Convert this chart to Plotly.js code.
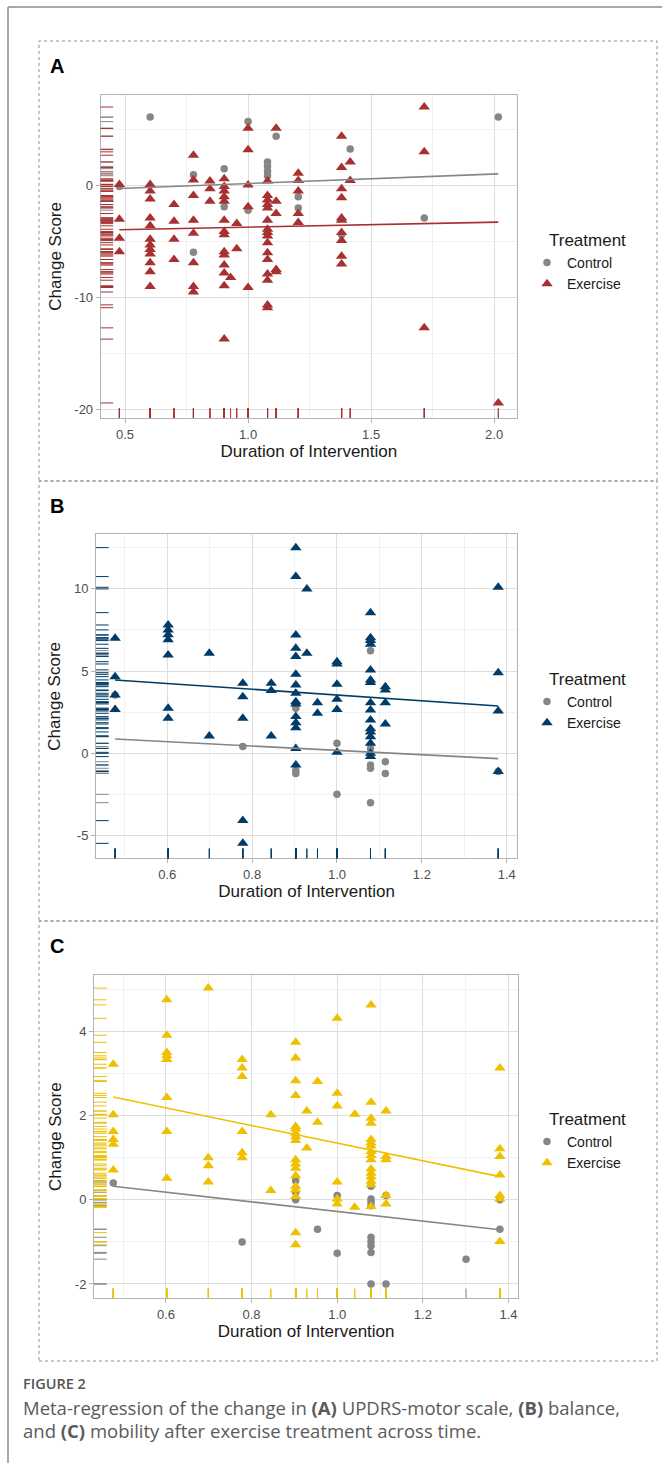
<!DOCTYPE html>
<html>
<head>
<meta charset="utf-8">
<script src="https://cdn.plot.ly/plotly-3.0.1.min.js"></script>
<style>
html,body{margin:0;padding:0;background:#fff;}
#chart{width:662px;height:1472px;}
</style>
</head>
<body>
<div id="chart"></div>
<script>
// ---------------- DATA (x = Duration of Intervention, y = Change Score) ----------------
const groupNames = ["Control", "Exercise"];
const panelLetters = ["A", "B", "C"];
const legendTitle = "Treatment";
const xTitle = "Duration of Intervention";
const yTitle = "Change Score";

// Panel A: UPDRS-motor
const aControlX = [0.477,0.602,0.778,0.778,0.903,0.903,1.0,1.0,1.079,1.079,1.079,1.079,1.114,1.204,1.204,1.380,1.415,1.716,2.017];
const aControlY = [-0.1,6.1,0.95,-5.95,1.5,-1.9,5.7,-2.2,2.1,1.7,1.25,0.87,4.4,-1.0,-2.0,-4.4,3.25,-2.9,6.1];
const aExerciseX = [
  0.477,0.477,0.477,0.477,
  0.602,0.602,0.602,0.602,0.602,0.602,0.602,0.602,0.602,0.602,0.602,0.602,
  0.699,0.699,0.699,0.699,
  0.778,0.778,0.778,0.778,0.778,0.778,0.778,0.778,
  0.845,0.845,0.845,
  0.903,0.903,0.903,0.903,0.903,0.903,0.903,0.903,0.903,0.903,0.903,0.903,0.903,0.903,
  0.929,
  0.954,0.954,
  1.0,1.0,1.0,1.0,1.0,
  1.079,1.079,1.079,1.079,1.079,1.079,1.079,1.079,1.079,1.079,1.079,1.079,1.079,1.079,1.079,1.079,
  1.114,1.114,1.114,1.114,1.114,
  1.204,1.204,1.204,1.204,1.204,
  1.380,1.380,1.380,1.380,1.380,1.380,1.380,1.380,1.380,1.380,
  1.415,1.415,
  1.716,1.716,1.716,
  2.017];
const aExerciseY = [
  0.1,-3.0,-4.7,-5.9,
  0.1,-0.5,-1.2,-2.9,-3.6,-4.8,-5.3,-5.7,-6.1,-6.9,-7.7,-9.0,
  -1.7,-3.2,-4.8,-6.6,
  2.7,0.5,-0.9,-3.1,-4.25,-6.9,-9.0,-9.5,
  0.4,-0.3,-1.4,
  0.6,-0.1,-0.5,-1.0,-1.4,-3.1,-4.1,-4.4,-5.9,-6.2,-7.1,-7.8,-8.95,-13.7,
  -8.2,
  -3.4,-5.65,
  5.1,3.2,0.05,-1.9,-9.1,
  0.4,-0.9,-1.3,-1.7,-2.0,-3.1,-3.9,-4.2,-4.5,-5.1,-6.0,-6.6,-7.9,-8.45,-10.65,-10.9,
  5.1,-1.4,-2.5,-7.5,-7.7,
  1.1,0.45,-0.5,-2.5,-3.3,
  4.4,1.6,-0.3,-1.1,-2.9,-3.1,-4.2,-4.9,-6.3,-7.0,
  2.1,0.45,
  7.0,3.0,-12.7,
  -19.4];
const aFitX = [0.477, 2.017];
const aControlFitY = [-0.27, 1.04];
const aExerciseFitY = [-3.95, -3.27];
const aYTickVals = [-20, -10, 0];
const aYTickText = ["-20", "-10", "0"];

// Panel B: balance
const bControlX = [0.477,0.778,0.903,0.903,0.903,1.0,1.0,1.079,1.079,1.079,1.079,1.079,1.114,1.114,1.380];
const bControlY = [3.55,0.41,2.74,-1.05,-1.22,0.61,-2.49,6.24,0.3,-0.71,-0.91,-3.0,-0.51,-1.22,-1.11];
const bExerciseX = [
  0.477,0.477,0.477,0.477,
  0.602,0.602,0.602,0.602,0.602,0.602,0.602,
  0.699,0.699,
  0.778,0.778,0.778,0.778,0.778,
  0.845,0.845,0.845,
  0.903,0.903,0.903,0.903,0.903,0.903,0.903,0.903,0.903,0.903,0.903,0.903,0.903,0.903,0.903,
  0.929,0.929,
  0.954,0.954,
  1.0,1.0,1.0,1.0,1.0,1.0,
  1.079,1.079,1.079,1.079,1.079,1.079,1.079,1.079,1.079,1.079,1.079,1.079,1.079,1.079,1.079,1.079,
  1.114,1.114,1.114,1.114,
  1.380,1.380,1.380,1.380];
const bExerciseY = [
  6.99,4.66,3.55,2.67,
  7.8,7.5,7.2,6.9,5.98,2.74,2.13,
  6.08,1.05,
  4.26,3.44,2.13,-4.09,-5.47,
  4.26,3.81,1.05,
  12.5,10.74,7.19,6.38,5.88,4.8,4.15,3.65,3.14,3.0,2.23,1.86,1.56,0.3,-0.71,
  9.99,6.08,
  3.08,2.43,
  5.57,5.43,4.19,3.28,2.67,0.06,
  8.55,7.03,6.85,6.63,5.07,4.46,4.3,3.08,2.63,2.03,1.5,1.3,1.01,0.61,0.0,-0.2,
  4.05,3.85,3.08,1.78,
  10.09,4.9,2.57,-1.11];
const bFitX = [0.477, 1.380];
const bControlFitY = [0.87, -0.32];
const bExerciseFitY = [4.46, 2.88];
const bYTickVals = [-5, 0, 5, 10];
const bYTickText = ["-5", "0", "5", "10"];

// Panel C: mobility
const cControlX = [0.477,0.778,0.903,0.903,0.903,0.954,1.0,1.0,1.079,1.079,1.079,1.079,1.079,1.079,1.079,1.079,1.079,1.114,1.114,1.301,1.380,1.380];
const cControlY = [0.40,-1.0,0.45,0.18,0.0,-0.70,0.1,-1.27,0.32,0.02,-0.06,-0.14,-0.89,-0.99,-1.09,-1.25,-2.0,0.1,-2.0,-1.41,0.0,-0.70];
const cExerciseX = [
  0.477,0.477,0.477,0.477,0.477,0.477,
  0.602,0.602,0.602,0.602,0.602,0.602,0.602,0.602,
  0.699,0.699,0.699,0.699,
  0.778,0.778,0.778,0.778,0.778,0.778,
  0.845,0.845,
  0.903,0.903,0.903,0.903,0.903,0.903,0.903,0.903,0.903,0.903,0.903,0.903,0.903,0.903,0.903,0.903,0.903,0.903,
  0.929,0.929,
  0.954,0.954,
  1.0,1.0,1.0,1.0,1.0,1.0,
  1.041,1.041,
  1.079,1.079,1.079,1.079,1.079,1.079,1.079,1.079,1.079,1.079,1.079,1.079,1.079,1.079,1.079,1.079,
  1.114,1.114,1.114,1.114,1.114,
  1.380,1.380,1.380,1.380,1.380,1.380,1.380];
const cExerciseY = [
  3.22,2.02,1.62,1.43,1.32,0.71,
  4.75,3.91,3.5,3.42,3.33,2.43,1.62,0.51,
  5.03,1.0,0.81,0.42,
  3.33,3.13,2.93,1.62,1.12,1.0,
  2.02,0.22,
  3.74,3.37,2.83,2.48,1.74,1.68,1.58,1.5,1.41,0.95,0.85,0.75,0.57,0.32,0.24,0.08,-0.78,-1.07,
  2.11,1.23,
  2.81,1.84,
  4.31,2.53,2.23,0.42,0.02,-0.1,
  2.03,-0.18,
  4.63,2.32,1.94,1.82,1.43,1.35,1.28,1.15,1.05,0.95,0.73,0.63,0.54,0.44,0.36,-0.16,
  2.11,1.03,0.95,0.1,-0.1,
  3.13,1.21,1.03,0.59,0.1,0.02,-0.99];
const cFitX = [0.477, 1.380];
const cControlFitY = [0.32, -0.71];
const cExerciseFitY = [2.44, 0.55];
const cYTickVals = [-2, 0, 2, 4];
const cYTickText = ["-2", "0", "2", "4"];

// Caption
const captionLabel = "FIGURE 2";
const captionLine1 = "Meta-regression of the change in <b>(A)</b> UPDRS-motor scale, <b>(B)</b> balance,";
const captionLine2 = "and <b>(C)</b> mobility after exercise treatment across time.";

// ---------------- STYLE ----------------
const W = 662, H = 1472;
const fx = p => p / W;
const fy = p => 1 - p / H;
const FONT = "Liberation Sans, Arial, Helvetica, sans-serif";
const controlColor = "#868686";
const exerciseColors = ["#A73030", "#003C67", "#EFC000"];

const panels = [
  { cx: aControlX, cy: aControlY, ex: aExerciseX, ey: aExerciseY, fitX: aFitX, cFit: aControlFitY, eFit: aExerciseFitY,
    yTv: aYTickVals, yTt: aYTickText,
    plot: [100.7, 517, 94.7, 418], xr: [0.401, 2.093], yr: [-20.74, 8.1], xd: 0.5, xm: 0.25, ym: 5, xfmt: ".1f",
    box: [39, 657, 41, 481], leg: [527, 247], legTitle: [547, 240] },
  { cx: bControlX, cy: bControlY, ex: bExerciseX, ey: bExerciseY, fitX: bFitX, cFit: bControlFitY, eFit: bExerciseFitY,
    yTv: bYTickVals, yTt: bYTickText,
    plot: [96, 517.3, 534.3, 858.3], xr: [0.432, 1.425], yr: [-6.38, 13.31], xd: 0.2, xm: 0.1, ym: 2.5, xfmt: ".1f",
    box: [39, 657, 481, 921], leg: [527, 686], legTitle: [547, 679] },
  { cx: cControlX, cy: cControlY, ex: cExerciseX, ey: cExerciseY, fitX: cFitX, cFit: cControlFitY, eFit: cExerciseFitY,
    yTv: cYTickVals, yTt: cYTickText,
    plot: [94, 518.3, 975, 1298.3], xr: [0.432, 1.423], yr: [-2.34, 5.34], xd: 0.2, xm: 0.1, ym: 1, xfmt: ".1f",
    box: [39, 657, 921, 1361], leg: [527, 1126], legTitle: [547, 1119] }
];

const traces = [];
const shapes = [];
const annotations = [];
const layout = {
  width: W, height: H,
  margin: { l: 0, r: 0, t: 0, b: 0 },
  paper_bgcolor: "#ffffff",
  plot_bgcolor: "#ffffff",
  font: { family: FONT, color: "#000" },
  showlegend: true
};

panels.forEach((p, i) => {
  const n = i === 0 ? "" : String(i + 1);
  const xa = "x" + n, ya = "y" + n;
  const legendId = "legend" + n;
  const col = exerciseColors[i];

  // points
  traces.push({ type: "scatter", mode: "markers", x: p.cx, y: p.cy, xaxis: xa, yaxis: ya,
    name: groupNames[0], legend: legendId, legendgroup: "c" + i,
    marker: { symbol: "circle", size: 7.5, color: controlColor } });
  traces.push({ type: "scatter", mode: "markers", x: p.ex, y: p.ey, xaxis: xa, yaxis: ya,
    name: groupNames[1], legend: legendId, legendgroup: "e" + i,
    marker: { symbol: "triangle-up", size: 10, color: col } });
  // regression lines
  traces.push({ type: "scatter", mode: "lines", x: p.fitX, y: p.cFit, xaxis: xa, yaxis: ya,
    showlegend: false, legend: legendId, line: { color: controlColor, width: 1.6 } });
  traces.push({ type: "scatter", mode: "lines", x: p.fitX, y: p.eFit, xaxis: xa, yaxis: ya,
    showlegend: false, legend: legendId, line: { color: col, width: 1.6 } });

  // rugs (control first, exercise on top)
  [[p.cx, p.cy, controlColor], [p.ex, p.ey, col]].forEach(([xs, ys, c]) => {
    ys.forEach(v => shapes.push({ type: "line", xref: xa + " domain", yref: ya, x0: 0, x1: 0.03, y0: v, y1: v,
      line: { color: c, width: 1 } }));
    xs.forEach(v => shapes.push({ type: "line", xref: xa, yref: ya + " domain", x0: v, x1: v, y0: 0, y1: 0.03,
      line: { color: c, width: 1 } }));
  });

  const [l, r, t, b] = p.plot;
  layout["xaxis" + n] = {
    domain: [fx(l), fx(r)], anchor: ya, range: p.xr, dtick: p.xd, tick0: 0, tickformat: p.xfmt,
    showgrid: true, gridcolor: "#DEDEDE", gridwidth: 1,
    minor: { dtick: p.xm, tick0: 0, showgrid: true, gridcolor: "#EBEBEB", gridwidth: 0.7 },
    showline: true, mirror: true, linecolor: "#B3B3B3", linewidth: 1,
    ticks: "outside", ticklen: 4, tickcolor: "#B3B3B3", tickwidth: 1,
    tickfont: { family: FONT, size: 13, color: "#4D4D4D" },
    zeroline: false, automargin: false, fixedrange: true,
    title: { text: xTitle, font: { family: FONT, size: 17, color: "#1a1a1a" }, standoff: 2 }
  };
  layout["yaxis" + n] = {
    domain: [fy(b), fy(t)], anchor: xa, range: p.yr, tickmode: "array", tickvals: p.yTv, ticktext: p.yTt,
    showgrid: true, gridcolor: "#DEDEDE", gridwidth: 1,
    minor: { tickmode: "linear", dtick: p.ym, tick0: 0, showgrid: true, gridcolor: "#EBEBEB", gridwidth: 0.7 },
    showline: true, mirror: true, linecolor: "#B3B3B3", linewidth: 1,
    ticks: "outside", ticklen: 4, tickcolor: "#B3B3B3", tickwidth: 1,
    tickfont: { family: FONT, size: 13, color: "#4D4D4D" },
    zeroline: false, automargin: false, fixedrange: true,
    title: { text: yTitle, font: { family: FONT, size: 17, color: "#1a1a1a" }, standoff: 8 }
  };
  layout[legendId] = {
    x: fx(p.leg[0]), y: fy(p.leg[1]), xanchor: "left", yanchor: "top",
    bgcolor: "rgba(0,0,0,0)", borderwidth: 0,
    font: { family: FONT, size: 14, color: "#1a1a1a" },
    tracegroupgap: 0, itemwidth: 30
  };
  annotations.push({ xref: "paper", yref: "paper", x: fx(p.legTitle[0]), y: fy(p.legTitle[1]), xanchor: "left", yanchor: "middle",
    text: legendTitle, showarrow: false, font: { family: FONT, size: 17, color: "#1a1a1a" } });

  // dotted panel box
  const [bl, br, bt, bb] = p.box;
  shapes.unshift({ type: "rect", xref: "paper", yref: "paper", x0: fx(bl), x1: fx(br), y0: fy(bb), y1: fy(bt),
    line: { color: "#8f8f8f", width: 1, dash: "dot" }, layer: "below" });

  annotations.push({ xref: "paper", yref: "paper", x: fx(bl + 9), y: fy(bt + 25), xanchor: "left", yanchor: "middle",
    text: "<b>" + panelLetters[i] + "</b>", showarrow: false, font: { family: FONT, size: 20, color: "#000" } });
});

// outer frame
shapes.unshift({ type: "line", xref: "paper", yref: "paper", x0: fx(8), x1: fx(8), y0: fy(1463), y1: fy(7),
  line: { color: "#8c8c8c", width: 1.5 } });
shapes.unshift({ type: "line", xref: "paper", yref: "paper", x0: fx(8), x1: fx(662), y0: fy(7), y1: fy(7),
  line: { color: "#8c8c8c", width: 1.5 } });

// caption
const CAP = "Open Sans, Noto Sans, sans-serif";
annotations.push({ xref: "paper", yref: "paper", x: fx(21), y: fy(1383), xanchor: "left", yanchor: "middle",
  text: captionLabel, showarrow: false, font: { family: CAP, size: 14.5, color: "#555555", weight: 600 } });
annotations.push({ xref: "paper", yref: "paper", x: fx(21), y: fy(1407), xanchor: "left", yanchor: "middle",
  text: captionLine1, showarrow: false, font: { family: CAP, size: 18.5, color: "#5a5a5a" } });
annotations.push({ xref: "paper", yref: "paper", x: fx(21), y: fy(1430), xanchor: "left", yanchor: "middle",
  text: captionLine2, showarrow: false, font: { family: CAP, size: 18.5, color: "#5a5a5a" } });

layout.shapes = shapes;
layout.annotations = annotations;

Plotly.newPlot("chart", traces, layout, { staticPlot: true, displayModeBar: false });
</script>
</body>
</html>
